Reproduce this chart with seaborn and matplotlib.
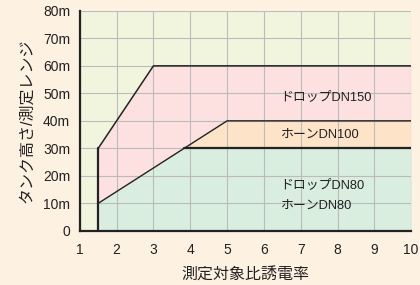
import numpy as np
import matplotlib
matplotlib.use("Agg")
import matplotlib.pyplot as plt
import seaborn as sns

# boundary lines
upper_x = [1.5, 3, 10]
upper_y = [30, 60, 60]
lower_x = [1.5, 5, 10]
lower_y = [10, 40, 40]
dn80_cap = 30
x_start = 1.5

x_ticks = list(range(1, 11))
y_ticks = [0, 10, 20, 30, 40, 50, 60, 70, 80]
y_labels = ["0", "10m", "20m", "30m", "40m", "50m", "60m", "70m", "80m"]

labels = [
    ("ドロップDN150", 6.45, 48.5),
    ("ホーンDN100", 6.45, 35.0),
    ("ドロップDN80", 6.45, 16.5),
    ("ホーンDN80", 6.45, 9.0),
]

sns.set_theme(style="whitegrid")
plt.rcParams["font.family"] = ["Liberation Sans", "Noto Sans CJK JP", "DejaVu Sans"]

fig = plt.figure(figsize=(4.2, 2.85), dpi=100, facecolor="#fdf1e2")
ax = fig.add_axes([0.19, 0.19, 0.789, 0.772])
ax.set_facecolor("#f1f5dd")

xs = np.linspace(x_start, 10, 2001)
up = np.interp(xs, upper_x, upper_y)
lo = np.interp(xs, lower_x, lower_y)

ax.fill_between(xs, 0, lo, color="#fde3c8", lw=0, zorder=1)
ax.fill_between(xs, 0, np.minimum(lo, dn80_cap), color="#d9eedf", lw=0, zorder=1)
ax.fill_between(xs, lo, up, color="#fde1e1", lw=0, zorder=1)

ink = "#222222"
line_kw = dict(estimator=None, sort=False, ax=ax, zorder=3)
sns.lineplot(x=upper_x, y=upper_y, color=ink, lw=1.1, **line_kw)
sns.lineplot(x=lower_x, y=lower_y, color=ink, lw=1.0, **line_kw)
cap_x = np.interp(dn80_cap, lower_y, lower_x)
sns.lineplot(x=[cap_x, 10], y=[dn80_cap, dn80_cap], color=ink, lw=1.6, **line_kw)
sns.lineplot(x=[x_start, x_start], y=[0, 30], color=ink, lw=1.6, **line_kw)

for txt, tx, ty in labels:
    ax.text(tx, ty, txt, fontsize=9.3, color="#222222", va="center", ha="left", zorder=4)

ax.set_xlim(1, 10)
ax.set_ylim(0, 80)
ax.set_xticks(x_ticks)
ax.set_yticks(y_ticks)
ax.set_yticklabels(y_labels)
ax.set_axisbelow(False)
ax.grid(True, color="#bbbbbb", lw=0.8)

for s in ["top", "right"]:
    ax.spines[s].set_visible(False)
for s in ["left", "bottom"]:
    ax.spines[s].set_color(ink)
    ax.spines[s].set_linewidth(1.6)
    ax.spines[s].set_zorder(5)
ax.tick_params(axis="both", direction="out", length=4, width=1.5, color=ink,
               labelsize=10, labelcolor="#222222", pad=3)
ax.tick_params(axis="x", pad=5)

ax.set_xlabel("測定対象比誘電率", fontsize=11.5, color="#222222", labelpad=7)
ax.set_ylabel("タンク高さ/測定レンジ", fontsize=11.5, color="#222222", labelpad=6)

fig.savefig("out.png", dpi=100, facecolor=fig.get_facecolor())
